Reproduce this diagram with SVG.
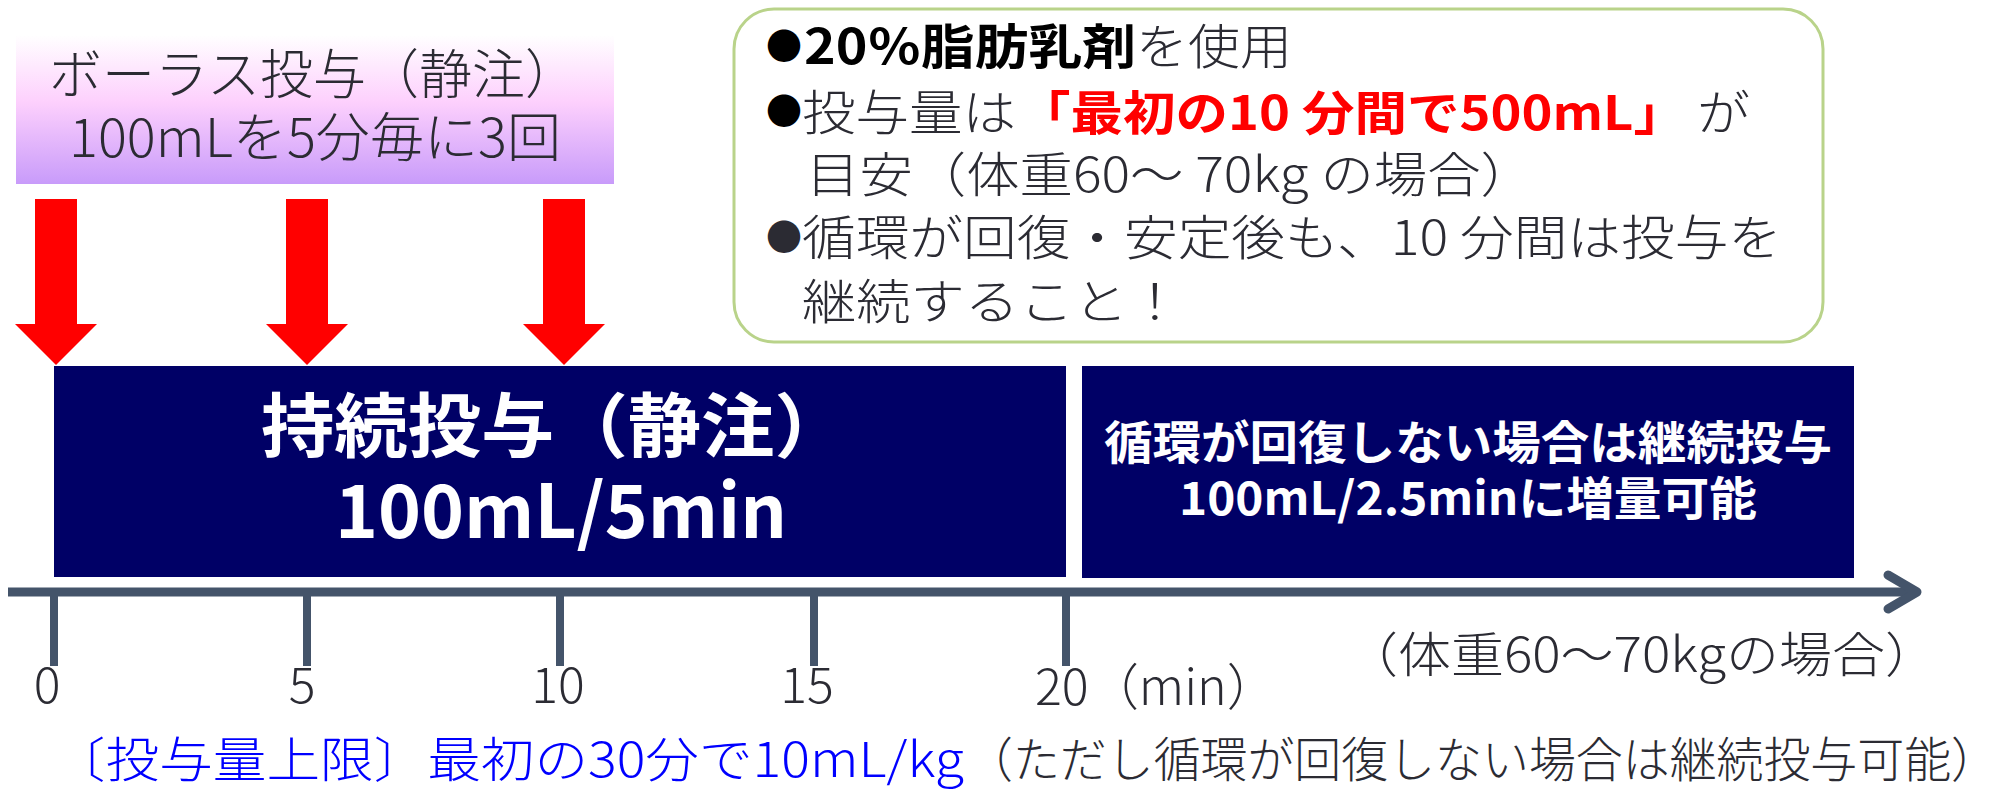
<svg xmlns="http://www.w3.org/2000/svg" width="2003" height="791" viewBox="0 0 2003 791">
<defs>
<linearGradient id="bolusGrad" x1="0" y1="0" x2="0" y2="1">
<stop offset="0" stop-color="#ffffff"/>
<stop offset="0.45" stop-color="#fdd0fd"/>
<stop offset="1" stop-color="#c89bfa"/>
</linearGradient>
<style>
.jp{font-family:"Noto Sans CJK JP","Noto Sans",sans-serif;}
.lt{font-weight:300;}
.dark{fill:#2b2b33;}
.b{font-weight:bold;}
.white{fill:#ffffff;}
.red{fill:#ff0000;}
.blue{fill:#0000ff;}
.arrow{fill:#ff0000;}
.navy{fill:#000066;}
.axis{stroke:#44546a;stroke-width:9;fill:none;}
.tick{stroke:#44546a;stroke-width:8;}
</style>
</defs>
<rect width="2003" height="791" fill="#ffffff"/>

<g id="bolus">
<rect x="16" y="35" width="598" height="149" fill="url(#bolusGrad)"/>
<text class="jp lt dark" x="49" y="94" font-size="53" textLength="529" lengthAdjust="spacingAndGlyphs">ボーラス投与（静注）</text>
<text class="jp lt dark" x="69" y="157" font-size="53" textLength="492" lengthAdjust="spacingAndGlyphs">100mLを5分毎に3回</text>
</g>

<g id="note">
<rect x="734" y="9" width="1089" height="333" rx="40" ry="40" fill="#ffffff" stroke="#b9d38a" stroke-width="3"/>
<text class="jp" x="766" y="60" font-size="36" fill="#000000">●</text>
<text class="jp b" x="804" y="64" font-size="48" fill="#000000" textLength="332" lengthAdjust="spacingAndGlyphs">20％脂肪乳剤</text>
<text class="jp lt dark" x="1136" y="64" font-size="48" textLength="156" lengthAdjust="spacingAndGlyphs">を使用</text>
<text class="jp" x="766" y="125" font-size="36" fill="#000000">●</text>
<text class="jp lt dark" x="802" y="130" font-size="48" textLength="214" lengthAdjust="spacingAndGlyphs">投与量は</text>
<text class="jp b red" x="1018" y="130" font-size="47" textLength="668" lengthAdjust="spacingAndGlyphs">「最初の10 分間で500mL」</text>
<text class="jp lt dark" x="1697" y="130" font-size="48" textLength="53" lengthAdjust="spacingAndGlyphs">が</text>
<text class="jp lt dark" x="806" y="192" font-size="48" textLength="728" lengthAdjust="spacingAndGlyphs">目安（体重60〜 70kg の場合）</text>
<text class="jp" x="766" y="251" font-size="36" fill="#2b2b33">●</text>
<text class="jp lt dark" x="802" y="255" font-size="48" textLength="980" lengthAdjust="spacingAndGlyphs">循環が回復・安定後も、10 分間は投与を</text>
<text class="jp lt dark" x="802" y="319" font-size="48" textLength="380" lengthAdjust="spacingAndGlyphs">継続すること！</text>
</g>

<g id="bolus-arrows">
<polygon class="arrow" points="35,199 77,199 77,324 97,324 56,365 15,324 35,324"/>
<polygon class="arrow" points="286,199 328,199 328,324 348,324 307,365 266,324 286,324"/>
<polygon class="arrow" points="543,199 585,199 585,324 605,324 564,365 523,324 543,324"/>
</g>

<g id="continuous">
<rect class="navy" x="54" y="366" width="1012" height="211"/>
<text class="jp b white" x="261" y="452" font-size="70" textLength="587" lengthAdjust="spacingAndGlyphs">持続投与（静注）</text>
<text class="jp b white" x="335" y="538" font-size="74" textLength="452" lengthAdjust="spacingAndGlyphs">100mL/5min</text>
</g>

<g id="increase">
<rect class="navy" x="1082" y="366" width="772" height="212"/>
<text class="jp b white" x="1468" y="459" font-size="46" text-anchor="middle" textLength="728" lengthAdjust="spacingAndGlyphs">循環が回復しない場合は継続投与</text>
<text class="jp b white" x="1468" y="515" font-size="46" text-anchor="middle" textLength="578" lengthAdjust="spacingAndGlyphs">100mL/2.5minに増量可能</text>
</g>

<g id="connectors">
<line class="axis" x1="8" y1="592" x2="1915" y2="592"/>
<polyline class="axis" points="1888,575 1917,592 1888,609" stroke-linecap="round" stroke-linejoin="round"/>
<line class="tick" x1="54" y1="592" x2="54" y2="666"/>
<line class="tick" x1="307" y1="592" x2="307" y2="666"/>
<line class="tick" x1="560" y1="592" x2="560" y2="666"/>
<line class="tick" x1="814" y1="592" x2="814" y2="666"/>
<line class="tick" x1="1066" y1="592" x2="1066" y2="666"/>
</g>

<g id="axis-labels">
<text class="jp lt dark" x="47" y="703" font-size="50" text-anchor="middle">0</text>
<text class="jp lt dark" x="302" y="703" font-size="50" text-anchor="middle">5</text>
<text class="jp lt dark" x="558" y="703" font-size="50" text-anchor="middle">10</text>
<text class="jp lt dark" x="807" y="703" font-size="50" text-anchor="middle">15</text>
<text class="jp lt dark" x="1035" y="705" font-size="50" textLength="242" lengthAdjust="spacingAndGlyphs">20（min）</text>
<text class="jp lt dark" x="1345" y="672" font-size="48" textLength="593" lengthAdjust="spacingAndGlyphs">（体重60〜70kgの場合）</text>
</g>

<g id="limit">
<text class="jp lt blue" x="52" y="777" font-size="48" textLength="912" lengthAdjust="spacingAndGlyphs">〔投与量上限〕最初の30分で10mL/kg</text>
<text class="jp lt dark" x="966" y="777" font-size="48" textLength="1032" lengthAdjust="spacingAndGlyphs">（ただし循環が回復しない場合は継続投与可能）</text>
</g>
</svg>
